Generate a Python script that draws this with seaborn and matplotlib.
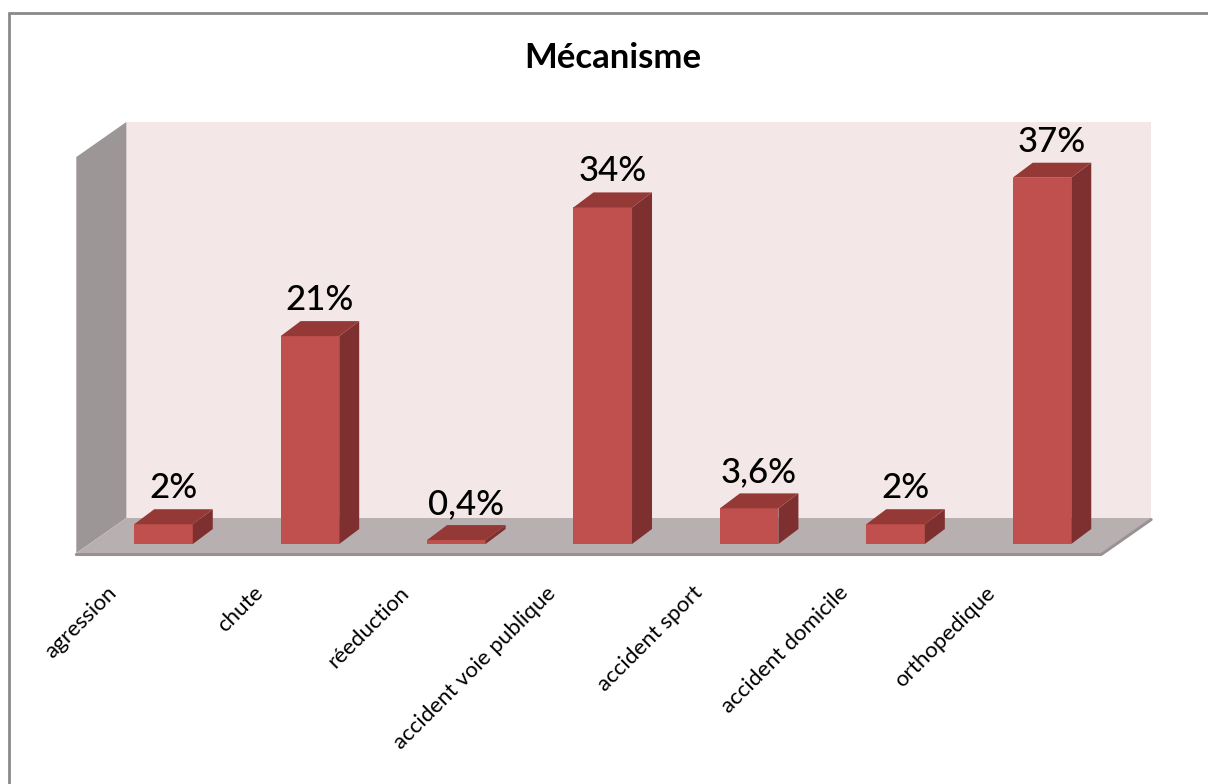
import numpy as np
import pandas as pd
import matplotlib
matplotlib.use("Agg")
import matplotlib.pyplot as plt
import seaborn as sns
from matplotlib.patches import Polygon
from matplotlib.lines import Line2D
from matplotlib.transforms import IdentityTransform, ScaledTranslation

# --- data -------------------------------------------------------------
categories = [
    "agression",
    "chute",
    "réeduction",
    "accident voie publique",
    "accident sport",
    "accident domicile",
    "orthopedique",
]
percentages = [2, 21, 0.4, 34, 3.6, 2, 37]
y_max = 40
title = "Mécanisme"

# --- styling ----------------------------------------------------------
FRONT = "#C0504D"
SIDE = "#7E3030"
TOP = "#953936"
BACK_WALL = "#F3E7E8"
SIDE_WALL = "#9C9696"
FLOOR = "#B8B0B0"
FLOOR_EDGE = "#9A9292"

# depth offsets in pixels (x right, y up) relative to the bar front plane
BAR_DEPTH = np.array([20.0, 15.0])
FLOOR_FRONT = np.array([-14.0, -9.0])
WALL_BACK = np.array([36.0, 26.0])

sns.set_theme(style="white")
plt.rcParams["font.family"] = ["Lato", "DejaVu Sans"]

fig = plt.figure(figsize=(12.08, 7.84), dpi=100)
ax = fig.add_axes([0.07475, 0.3061, 0.8484, 0.5051])

df = pd.DataFrame({"mecanisme": categories, "pct": percentages})
sns.barplot(
    data=df, x="mecanisme", y="pct", order=categories,
    color=FRONT, saturation=1, width=0.4, linewidth=0,
    zorder=3, ax=ax,
)
bars = list(ax.patches)

ax.set_xlim(-0.5, len(categories) - 0.5)
ax.set_ylim(0, y_max)
ax.set_facecolor("none")
for s in ax.spines.values():
    s.set_visible(False)
ax.set_yticks([])
ax.set_xlabel("")
ax.set_ylabel("")
ax.grid(False)


def px(x, y, depth):
    """Data point on the bar plane, pushed back by a depth offset (pixels)."""
    return ax.transData.transform((x, y)) + depth


def add_face(points, color, z, ec="none", lw=0):
    poly = Polygon(points, closed=True, facecolor=color, edgecolor=ec,
                   linewidth=lw, transform=IdentityTransform(), zorder=z)
    ax.add_patch(poly)
    poly.set_clip_on(False)


x_lo, x_hi = ax.get_xlim()

# back wall
add_face([px(x_lo, 0, WALL_BACK), px(x_hi, 0, WALL_BACK),
          px(x_hi, y_max, WALL_BACK), px(x_lo, y_max, WALL_BACK)],
         BACK_WALL, 0.1)
# left side wall
add_face([px(x_lo, 0, FLOOR_FRONT), px(x_lo, y_max, FLOOR_FRONT),
          px(x_lo, y_max, WALL_BACK), px(x_lo, 0, WALL_BACK)],
         SIDE_WALL, 0.2)
# floor
add_face([px(x_lo, 0, FLOOR_FRONT), px(x_hi, 0, FLOOR_FRONT),
          px(x_hi, 0, WALL_BACK), px(x_lo, 0, WALL_BACK)],
         FLOOR, 0.3)
# floor thickness along the front and right edges
edge = np.array([px(x_lo, 0, FLOOR_FRONT), px(x_hi, 0, FLOOR_FRONT),
                 px(x_hi, 0, WALL_BACK)])
ax.add_line(Line2D(edge[:, 0], edge[:, 1] - 1.5, color=FLOOR_EDGE, lw=2.2,
                   transform=IdentityTransform(), zorder=0.35, clip_on=False))

# 3D side and top faces of each bar, plus value labels
for bar, val in zip(bars, percentages):
    x0 = bar.get_x()
    x1 = x0 + bar.get_width()
    h = bar.get_height()
    zero = np.zeros(2)
    add_face([px(x1, 0, zero), px(x1, h, zero),
              px(x1, h, BAR_DEPTH), px(x1, 0, BAR_DEPTH)], SIDE, 3.1)
    add_face([px(x0, h, zero), px(x1, h, zero),
              px(x1, h, BAR_DEPTH), px(x0, h, BAR_DEPTH)], TOP, 3.2)
    label = f"{val:g}".replace(".", ",") + "%"
    ax.annotate(label, xy=((x0 + x1) / 2, h), xytext=(10, 26),
                textcoords="offset pixels", ha="center", va="baseline",
                fontsize=25, fontweight="medium", color="black", zorder=5,
                annotation_clip=False)

# category labels
ax.set_xticks(range(len(categories)))
ax.set_xticklabels(categories, rotation=45, ha="right", va="center",
                   rotation_mode="anchor", fontsize=16, color="black")
ax.tick_params(axis="x", length=0, pad=33)
shift = ScaledTranslation(-50 / 100, 0, fig.dpi_scale_trans)
for lab in ax.get_xticklabels():
    lab.set_transform(lab.get_transform() + shift)

fig.text(0.5075, 1 - 68 / 784, title, ha="center", va="baseline",
         fontsize=25, fontweight="bold", color="black")

# chart border (top and left edges)
border = dict(color="#8A8A8A", lw=2.0, transform=fig.transFigure)
fig.add_artist(Line2D([8.5 / 1208, 8.5 / 1208], [0, 1 - 12.5 / 784], **border))
fig.add_artist(Line2D([8.5 / 1208, 1], [1 - 12.5 / 784, 1 - 12.5 / 784], **border))

fig.savefig("out.png", dpi=100, facecolor="white")
